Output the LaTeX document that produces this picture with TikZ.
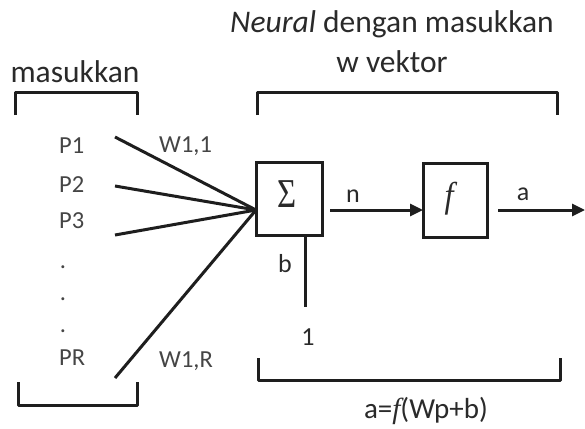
\documentclass[tikz,border=0pt]{standalone}
\usepackage{fontspec}
\setmainfont{Carlito}
\newfontfamily\symserif{Liberation Serif}
\usetikzlibrary{arrows.meta}
\definecolor{txt}{HTML}{2A2A2A}
\definecolor{lbl}{HTML}{454545}
\definecolor{ln}{HTML}{1E1E1E}
\tikzset{
  big/.style={font=\fontsize{31.5}{34}\selectfont, text=txt, inner sep=0pt, anchor=base},
  small/.style={font=\fontsize{24.5}{26}\selectfont, text=lbl, inner sep=0pt, anchor=base},
  med/.style={font=\fontsize{26}{28}\selectfont, text=txt, inner sep=0pt, anchor=base},
  sym/.style={font=\symserif\fontsize{36}{38}\selectfont, text=txt, inner sep=0pt, anchor=base},
  wire/.style={draw=ln, line width=3pt},
  arr/.style={draw=ln, line width=3pt, -{Triangle[length=13pt,width=12pt]}},
  brk/.style={draw=ln, line width=3pt, line join=round},
  blk/.style={draw=ln, line width=3pt, fill=white}
}
\begin{document}
\begin{tikzpicture}[x=1pt,y=-1pt]
\useasboundingbox[fill=white] (0,0) rectangle (585,428);
% headings
\node[big] (t1) at (392,33) {\textit{Neural} dengan masukkan};
\node[big] (t2) at (392,72) {w vektor};
\node[big] (t3) at (75,82) {masukkan};
% brackets
\draw[brk] (15,115) -- (15,92) -- (137,92) -- (137,115);
\draw[brk] (257,115) -- (257,92) -- (557,92) -- (557,115);
\draw[brk] (18,382) -- (18,405) -- (137,405) -- (137,382);
\draw[brk] (258,358) -- (258,380) -- (560,380) -- (560,358);
% inputs
\node[small,anchor=base west] (p1) at (59,153) {P1};
\node[small,anchor=base west] (p2) at (59,192) {P2};
\node[small,anchor=base west] (p3) at (59,228) {P3};
\node[small] (d1) at (63,268) {.};
\node[small] (d2) at (63,300) {.};
\node[small] (d3) at (63,332) {.};
\node[small,anchor=base west] (pr) at (59,365) {PR};
\node[small,anchor=base west] (w11) at (159,152) {W1,1};
\node[small,anchor=base west] (w1r) at (159,367) {W1,R};
\coordinate (s1) at (115,137);
\coordinate (s2) at (115,186);
\coordinate (s3) at (115,235);
\coordinate (sr) at (115,378);
% blocks
\node[blk, minimum width=66pt, minimum height=73pt] (sum) at (289,198.5) {};
\node[sym, font=\symserif\fontsize{41}{43}\selectfont, xscale=0.8] (sig) at (287,207) {Σ};
\node[blk, minimum width=64pt, minimum height=74pt] (fb) at (455,200) {};
\node[sym, xscale=0.9] (fl) at (449,207) {\itshape f};
\coordinate (in) at (256,210);
\draw[wire] (s1) -- (in);
\draw[wire] (s2) -- (in);
\draw[wire] (s3) -- (in);
\draw[wire] (sr) -- (in);
% n arrow
\coordinate (n0) at (330,210);
\coordinate (n1) at (423,210);
\draw[arr] (n0) -- (n1);
\node[med] (nl) at (353,202) {n};
% a arrow
\coordinate (a0) at (498,210);
\coordinate (a1) at (585,210);
\draw[arr] (a0) -- (a1);
\node[med] (al) at (523,200) {a};
% bias
\coordinate (b0) at (305,235);
\coordinate (b1) at (305,307);
\draw[wire] (b0) -- (b1);
\node[med] (bl) at (285,272) {b};
\node[med] (one) at (308,345) {1};
% output formula
\node[med, font=\fontsize{29}{31}\selectfont] (form) at (426,418) {a={\symserif\itshape f}(Wp+b)};
\end{tikzpicture}
\end{document}
